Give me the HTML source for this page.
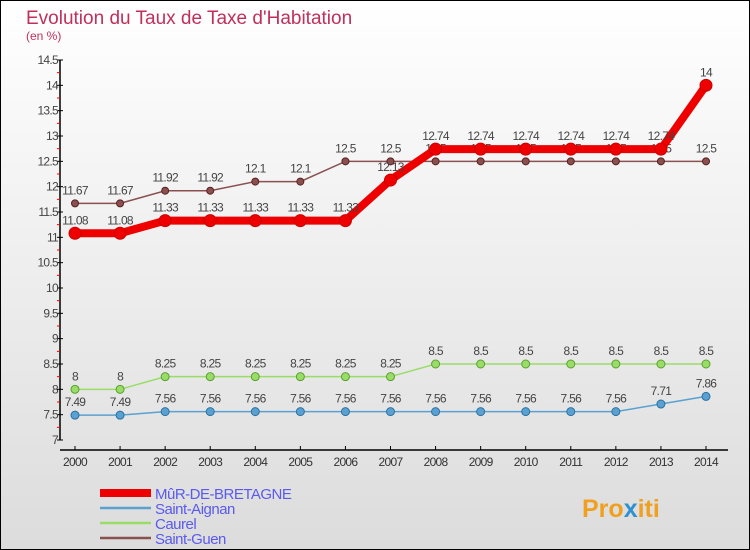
<!DOCTYPE html>
<html><head><meta charset="utf-8"><style>
body{margin:0}
#c{width:750px;height:550px;position:relative;box-sizing:border-box;border:1px solid #000;background:linear-gradient(#fff,#dcdcdc);overflow:hidden;font-family:"Liberation Sans",sans-serif}
</style></head><body>
<div id="c">
<svg width="750" height="550" style="position:absolute;left:-1px;top:-1px" font-family="Liberation Sans, sans-serif">
<text x="26" y="24" font-size="19" fill="#c0305a">Evolution du Taux de Taxe d'Habitation</text>
<text x="26" y="40" font-size="12" fill="#c0305a">(en %)</text>
<g id="axes"></g><g id="series"></g>
<g id="legend"></g>
<text x="582" y="517" font-size="25" font-weight="bold" fill="#f0a020">Pro<tspan fill="#3090d0">x</tspan>iti</text>
</svg>
</div>
<script>
const years=[2000,2001,2002,2003,2004,2005,2006,2007,2008,2009,2010,2011,2012,2013,2014];
const yTicks=[7,7.5,8,8.5,9,9.5,10,10.5,11,11.5,12,12.5,13,13.5,14,14.5];
const murValues=[11.08,11.08,11.33,11.33,11.33,11.33,11.33,12.13,12.74,12.74,12.74,12.74,12.74,12.74,14];
const aignanValues=[7.49,7.49,7.56,7.56,7.56,7.56,7.56,7.56,7.56,7.56,7.56,7.56,7.56,7.71,7.86];
const caurelValues=[8,8,8.25,8.25,8.25,8.25,8.25,8.25,8.5,8.5,8.5,8.5,8.5,8.5,8.5];
const guenValues=[11.67,11.67,11.92,11.92,12.1,12.1,12.5,12.5,12.5,12.5,12.5,12.5,12.5,12.5,12.5];
const seriesNames=["MûR-DE-BRETAGNE","Saint-Aignan","Caurel","Saint-Guen"];
const NS="http://www.w3.org/2000/svg";
const x=i=>75+i*(706-75)/(years.length-1);
const y=v=>440-(v-7)*(380/7.5);
function mk(t,a,p){const e=document.createElementNS(NS,t);for(const k in a)e.setAttribute(k,a[k]);p.appendChild(e);return e;}
const ax=document.getElementById('axes');
let yl=mk('line',{x1:60,x2:60,y1:60,y2:440,stroke:'#000','stroke-width':1.5},ax);


yTicks.forEach((v,i)=>{
  mk('line',{x1:57,x2:63,y1:y(v),y2:y(v),stroke:'#000'},ax);
  if(i<yTicks.length-1)mk('line',{x1:57,x2:60,y1:y(v+0.25),y2:y(v+0.25),stroke:'#e00'},ax);
  const t=mk('text',{x:58,y:y(v)+4,'text-anchor':'end','font-size':12,fill:'#444','letter-spacing':'-0.7'},ax);
  t.textContent=String(v);
  
  
});
let xl=mk('line',{x1:60,x2:728,y1:450,y2:450,stroke:'#000','stroke-width':1.5},ax);


years.forEach((yr,i)=>{
  mk('line',{x1:x(i),x2:x(i),y1:446,y2:450,stroke:'#000'},ax);
  const t=mk('text',{x:x(i),y:466,'text-anchor':'middle','font-size':12,fill:'#333','letter-spacing':'-0.7'},ax);
  t.textContent=yr;
  
  
});
const sg=document.getElementById('series');
function draw(vals,color,w,r,stroke,name){
  const g=mk('g',{},sg);
  
  
  mk('polyline',{points:vals.map((v,i)=>x(i)+','+y(v)).join(' '),fill:'none',stroke:color,'stroke-width':w},g);
  vals.forEach((v,i)=>{
    const c=mk('circle',{cx:x(i),cy:y(v),r:r,fill:color,stroke:stroke,'stroke-width':1},g);
    
    
    const t=mk('text',{x:x(i),y:y(v)-9,'text-anchor':'middle','font-size':12,fill:'#444','letter-spacing':'-0.7'},g);
    t.textContent=String(v);
    
    
  });
}
draw(aignanValues,'#5aa0d0',1.5,4,'#2a70a0','series-saint-aignan');
draw(caurelValues,'#99dd66',1.5,4,'#5aa030','series-caurel');
draw(guenValues,'#8a5050',1.5,3.5,'#5a2020','series-saint-guen');
draw(murValues,'#ee0000',8,6,'#cc0000','series-mur-de-bretagne');
const lg=document.getElementById('legend');
const lcols=['#ee0000','#5aa0d0','#99dd66','#8a5050'];
seriesNames.forEach((n,i)=>{
  const yy=493+i*15;
  const g=mk('g',{},lg);
  
  
  mk('line',{x1:100,x2:151,y1:yy,y2:yy,stroke:lcols[i],'stroke-width':i==0?8:2.5},g);
  const t=mk('text',{x:155,y:yy+6,'font-size':15,fill:'#5a5aee','letter-spacing':'-0.5'},g);
  t.textContent=n;
});
</script>
</body></html>
